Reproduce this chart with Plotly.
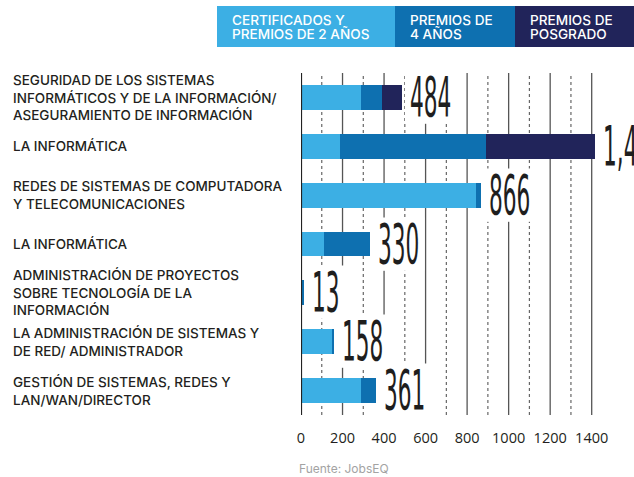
import plotly.graph_objects as go

# ---------------- data ----------------
categories = [
    "SEGURIDAD DE LOS SISTEMAS<br>INFORMÁTICOS Y DE LA INFORMACIÓN/<br>ASEGURAMIENTO DE INFORMACIÓN",
    "LA INFORMÁTICA",
    "REDES DE SISTEMAS DE COMPUTADORA<br>Y TELECOMUNICACIONES",
    "LA INFORMÁTICA ",
    "ADMINISTRACIÓN DE PROYECTOS<br>SOBRE TECNOLOGÍA DE LA<br>INFORMACIÓN",
    "LA ADMINISTRACIÓN DE SISTEMAS Y<br>DE RED/ ADMINISTRADOR",
    "GESTIÓN DE SISTEMAS, REDES Y<br>LAN/WAN/DIRECTOR",
]
cert_2yr = [289, 190, 841, 110, 0, 154, 289]
award_4yr = [101, 700, 25, 220, 13, 4, 72]
postgrad = [94, 525, 0, 0, 0, 0, 0]
total_labels = ["484", "1,415", "866", "330", "13", "158", "361"]

series_names = ["CERTIFICADOS Y<br>PREMIOS DE 2 AÑOS", "PREMIOS DE<br>4 AÑOS", "PREMIOS DE<br>POSGRADO"]
colors = ["#3CAFE4", "#0E70B0", "#21245A"]

tick_values = [0, 200, 400, 600, 800, 1000, 1200, 1400]
minor_values = [100, 300, 500, 700, 900, 1100, 1300]
source_text = "Fuente: JobsEQ"

# ---------------- layout geometry ----------------
W, H = 634, 477
L_M, R_M, T_M, B_M = 301, 0, 73, 62
PW = W - L_M - R_M
PH = H - T_M - B_M
PX_PER_1400 = 290.7


def px(x):
    return (x - L_M) / PW


def py(y):
    return (H - B_M - y) / PH


LABEL_FONT = "Inter, 'Open Sans', sans-serif"
TICK_FONT = "'Open Sans', Lato, sans-serif"
NUM_FONT = "'DejaVu Sans Condensed', 'Liberation Sans Narrow', 'DejaVu Sans', sans-serif"
TXT = "#231F20"

fig = go.Figure()
for name, vals, col in zip(series_names, [cert_2yr, award_4yr, postgrad], colors):
    fig.add_trace(go.Bar(
        y=categories, x=vals, orientation="h", name=name.replace("<br>", " "),
        marker=dict(color=col, line=dict(width=0)), width=0.51,
        hoverinfo="x+name",
    ))

totals = [a + b + c for a, b, c in zip(cert_2yr, award_4yr, postgrad)]

annotations = []
# value labels (first, indices 0..6; squeezed horizontally by post script)
for cat, tot, lab in zip(categories, totals, total_labels):
    annotations.append(dict(
        x=tot, y=cat, xref="x", yref="y", text=lab, showarrow=False,
        xanchor="left", yanchor="middle", xshift=7, yshift=1,
        font=dict(family=NUM_FONT, size=56, color="#1E1E1E"),
        bgcolor="white", borderpad=0,
    ))
# category labels
for cat in categories:
    annotations.append(dict(
        x=px(11), y=cat, xref="paper", yref="y", text=cat.strip(), showarrow=False,
        xanchor="left", yanchor="middle", align="left",
        font=dict(family=LABEL_FONT, size=13.5, color=TXT, weight=500),
    ))

shapes = []
# grid lines
for v in tick_values[1:]:
    shapes.append(dict(type="line", xref="x", yref="paper", x0=v, x1=v, y0=0, y1=1,
                       line=dict(color="#555555", width=1.3), layer="below"))
for v in minor_values:
    shapes.append(dict(type="line", xref="x", yref="paper", x0=v, x1=v, y0=0, y1=1,
                       line=dict(color="#666666", width=1.2, dash="dot"), layer="below"))
shapes.append(dict(type="line", xref="x", yref="paper", x0=0, x1=0, y0=0, y1=1,
                   line=dict(color="#222222", width=2.2), layer="above"))

# legend boxes
box_edges = [217, 395, 515, 634]
for i, col in enumerate(colors):
    shapes.append(dict(type="rect", xref="paper", yref="paper",
                       x0=px(box_edges[i]), x1=px(box_edges[i + 1]), y0=py(47), y1=py(6),
                       fillcolor=col, line=dict(width=0), layer="above"))
    lines = series_names[i].split("<br>")
    for j, ln in enumerate(lines):
        annotations.append(dict(
            x=px(box_edges[i] + 13), y=py(20 + 14.5 * j), xref="paper", yref="paper",
            text=ln, showarrow=False, xanchor="left", yanchor="middle",
            font=dict(family=LABEL_FONT, size=13.6, color="white", weight=500),
        ))

annotations.append(dict(
    x=px(297), y=py(468), xref="paper", yref="paper", text=source_text, showarrow=False,
    xanchor="left", yanchor="middle", font=dict(family=LABEL_FONT, size=12, color="#A3A3A3"),
))

fig.update_layout(
    width=W, height=H, autosize=False,
    margin=dict(l=L_M, r=R_M, t=T_M, b=B_M, pad=0),
    paper_bgcolor="white", plot_bgcolor="white",
    barmode="stack", showlegend=False,
    xaxis=dict(range=[0, 1400 * PW / PX_PER_1400], tickvals=tick_values, showgrid=False, zeroline=False,
               showline=False, ticks="", tickfont=dict(family=TICK_FONT, size=14.5, color=TXT),
               ticklabelstandoff=12, fixedrange=True),
    yaxis=dict(type="category", categoryorder="array", categoryarray=categories,
               range=[6.5, -0.5], showticklabels=False, showgrid=False, zeroline=False,
               showline=False, ticks="", fixedrange=True),
    shapes=shapes, annotations=annotations,
)

post = """
document.body.style.margin = '0';
var gd = document.getElementById('{plot_id}');
var N = %d, S = 0.43;
function squeeze(){
  gd.querySelectorAll('g.annotation').forEach(function(a){
    var i = +a.getAttribute('data-index');
    if (i >= N || a.getAttribute('data-sq')) return;
    var t = a.querySelector('text.annotation-text');
    var r = a.querySelector('rect.bg');
    if (!t) return;
    a.setAttribute('data-sq', '1');
    var g = t.parentNode;
    var b = t.getBBox();
    if (r) {
      r.setAttribute('x', b.x - 5 / S);
      r.setAttribute('width', b.width + 10 / S);
      r.setAttribute('y', b.y + b.height * 0.10);
      r.setAttribute('height', b.height * 0.82);
    }
    var L = b.x;
    g.setAttribute('transform', (g.getAttribute('transform') || '') +
      ' translate(' + L + ',0) scale(' + S + ',1) translate(' + (-L) + ',0)');
  });
}
squeeze();
gd.on('plotly_afterplot', squeeze);
""" % len(categories)

fig.write_html("out.html", post_script=post, config={"displayModeBar": False})
